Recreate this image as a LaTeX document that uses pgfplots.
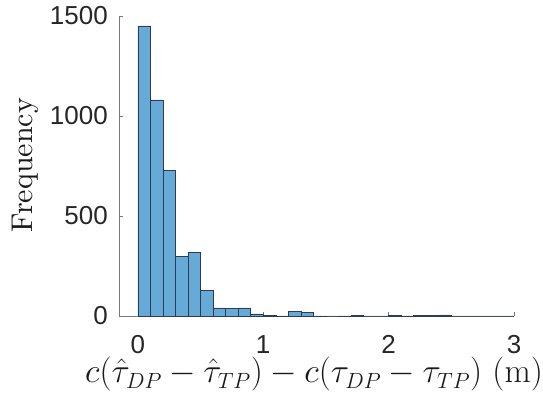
\RequirePackage{fix-cm}
\documentclass[border=0pt]{standalone}
\usepackage{pgfplots}
\pgfplotsset{compat=1.18}
\usepackage{fontspec}
\newfontfamily\arial{Liberation Sans}
\newfontfamily\lmten{lmroman10-regular.otf}
\DeclareMathSizes{34}{34}{22}{16}
\definecolor{barfill}{RGB}{102,170,215}
\definecolor{baredge}{RGB}{45,60,80}
\definecolor{axcol}{RGB}{120,120,120}
\begin{document}
\begin{tikzpicture}
\begin{axis}[
  scale only axis,
  width=395pt, height=300pt,
  xmin=-0.15, xmax=3,
  ymin=0, ymax=1500,
  xtick={0,1,2,3},
  ytick={0,500,1000,1500},
  axis x line*=bottom,
  axis y line*=left,
  axis line style={axcol, line width=0.6pt},
  tick align=inside,
  major tick length=4pt,
  tick style={axcol, line width=0.6pt},
  /pgf/number format/1000 sep={},
  /pgf/number format/assume math mode=true,
  tick label style={font=\arial\fontsize{26}{26}\selectfont, text=black!85},
  xticklabel style={inner sep=0pt, anchor=north, yshift=-19pt},
  yticklabel style={inner sep=0pt, anchor=east, xshift=-11pt},
  xlabel={$c(\hat\tau_{DP}-\hat\tau_{TP})-c(\tau_{DP}-\tau_{TP})\ (\mathrm{m})$},
  ylabel={Frequency},
  xlabel style={font=\fontsize{34}{34}\selectfont, text=black!90, inner sep=0pt, anchor=base, at={(rel axis cs:0.4937,-0.2233)}},
  ylabel style={font=\lmten\fontsize{30}{30}\selectfont, text=black!90, inner sep=0pt, anchor=base, rotate=0, at={(rel axis cs:-0.219,0.503)}},
  clip=false,
]
\addplot[ybar interval, fill=barfill, draw=baredge, line width=0.5pt] coordinates {
(0.0,1450) (0.1,1080) (0.2,728) (0.3,297) (0.4,318) (0.5,128) (0.6,40) (0.7,37)
(0.8,40) (0.9,10) (1.0,2) (1.1,1) (1.2,23) (1.3,17) (1.4,1) (1.5,0) (1.6,1)
(1.7,3) (1.8,0) (1.9,0) (2.0,3) (2.1,1) (2.2,2) (2.3,4) (2.4,5) (2.5,0)
(2.6,0) (2.7,0) (2.8,0) (2.9,0) (3.0,0)
};
\path (rel axis cs:-0.3013,-0.2633) (rel axis cs:1.0734,1.0533);
\end{axis}
\end{tikzpicture}
\end{document}
